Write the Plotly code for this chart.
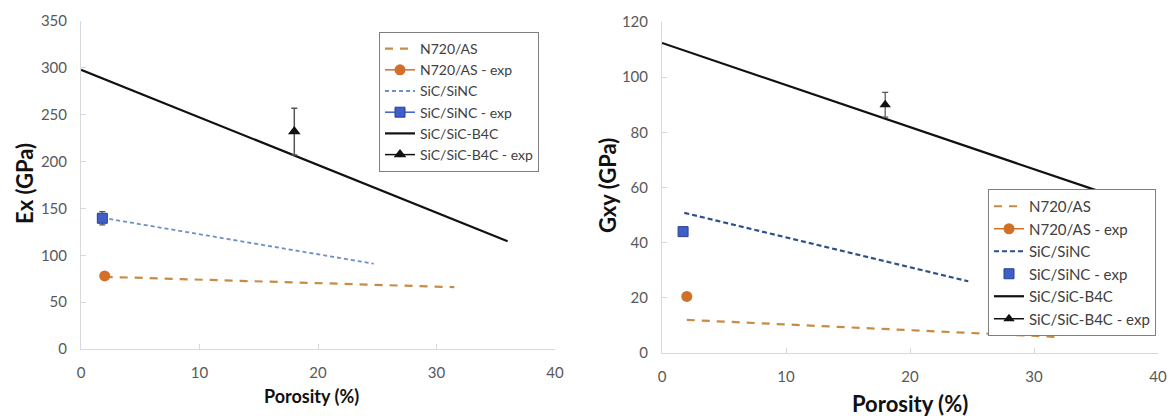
import plotly.graph_objects as go

# ---------------- data: left panel (Ex) ----------------
ex_n720_x = [2, 31.5]
ex_n720_y = [77, 66]
ex_n720_exp_x = [2]
ex_n720_exp_y = [78]
ex_sinc_x = [1.8, 24.7]
ex_sinc_y = [140, 91]
ex_sinc_exp_x = [1.8]
ex_sinc_exp_y = [139.5]
ex_sinc_exp_err = [7]
ex_b4c_x = [0, 36]
ex_b4c_y = [298, 115]
ex_b4c_exp_x = [18]
ex_b4c_exp_y = [232]
ex_b4c_exp_err = [25]

# ---------------- data: right panel (Gxy) ----------------
g_n720_x = [2, 32]
g_n720_y = [12, 5.8]
g_n720_exp_x = [2]
g_n720_exp_y = [20.5]
g_sinc_x = [1.8, 24.7]
g_sinc_y = [50.8, 26]
g_sinc_exp_x = [1.7]
g_sinc_exp_y = [44]
g_b4c_x = [0, 36]
g_b4c_y = [112.4, 57.5]
g_b4c_exp_x = [18]
g_b4c_exp_y = [90]
g_b4c_exp_err = [4.5]

names = ["N720/AS", "N720/AS - exp", "SiC/SiNC", "SiC/SiNC - exp", "SiC/SiC-B4C", "SiC/SiC-B4C - exp"]

ORANGE_LINE = "#C98A45"
ORANGE_MK = "#D2702A"
BLUE_LIGHT = "#6F8FC8"
BLUE_DARK = "#2F4F8A"
BLUE_MK = "#3F5FC8"
BLACK = "#111111"
FONT = "Lato"

fig = go.Figure()

# Left panel
fig.add_trace(go.Scatter(x=ex_n720_x, y=ex_n720_y, mode="lines", name=names[0],
                         line=dict(color=ORANGE_LINE, width=2.2, dash="8px,7px"),
                         xaxis="x", yaxis="y", legend="legend"))
fig.add_trace(go.Scatter(x=ex_n720_exp_x, y=ex_n720_exp_y, mode="lines+markers", name=names[1],
                         line=dict(color=ORANGE_MK, width=1.5),
                         marker=dict(symbol="circle", size=11, color=ORANGE_MK),
                         xaxis="x", yaxis="y", legend="legend"))
fig.add_trace(go.Scatter(x=ex_sinc_x, y=ex_sinc_y, mode="lines", name=names[2],
                         line=dict(color=BLUE_LIGHT, width=1.8, dash="4px,3px"),
                         xaxis="x", yaxis="y", legend="legend"))
fig.add_trace(go.Scatter(x=ex_sinc_exp_x, y=ex_sinc_exp_y, mode="lines+markers", name=names[3],
                         line=dict(color=BLUE_MK, width=1.5),
                         marker=dict(symbol="square", size=10, color=BLUE_MK,
                                     line=dict(color="#2A3F8F", width=1)),
                         error_y=dict(type="data", array=ex_sinc_exp_err, color="#555555",
                                      thickness=1.2, width=3),
                         xaxis="x", yaxis="y", legend="legend"))
fig.add_trace(go.Scatter(x=ex_b4c_x, y=ex_b4c_y, mode="lines", name=names[4],
                         line=dict(color=BLACK, width=2.2),
                         xaxis="x", yaxis="y", legend="legend"))
fig.add_trace(go.Scatter(x=ex_b4c_exp_x, y=ex_b4c_exp_y, mode="lines+markers", name=names[5],
                         line=dict(color=BLACK, width=1.5),
                         marker=dict(symbol="triangle-up", size=11, color=BLACK),
                         error_y=dict(type="data", array=ex_b4c_exp_err, color="#555555",
                                      thickness=1.5, width=3),
                         xaxis="x", yaxis="y", legend="legend"))

# Right panel
fig.add_trace(go.Scatter(x=g_n720_x, y=g_n720_y, mode="lines", name=names[0],
                         line=dict(color=ORANGE_LINE, width=2.2, dash="8px,7px"),
                         xaxis="x2", yaxis="y2", legend="legend2"))
fig.add_trace(go.Scatter(x=g_n720_exp_x, y=g_n720_exp_y, mode="lines+markers", name=names[1],
                         line=dict(color=ORANGE_MK, width=1.5),
                         marker=dict(symbol="circle", size=11, color=ORANGE_MK),
                         xaxis="x2", yaxis="y2", legend="legend2"))
fig.add_trace(go.Scatter(x=g_sinc_x, y=g_sinc_y, mode="lines", name=names[2],
                         line=dict(color=BLUE_DARK, width=2.2, dash="5px,3px"),
                         xaxis="x2", yaxis="y2", legend="legend2"))
fig.add_trace(go.Scatter(x=g_sinc_exp_x, y=g_sinc_exp_y, mode="markers", name=names[3],
                         marker=dict(symbol="square", size=10, color=BLUE_MK,
                                     line=dict(color="#2A3F8F", width=1)),
                         xaxis="x2", yaxis="y2", legend="legend2"))
fig.add_trace(go.Scatter(x=g_b4c_x, y=g_b4c_y, mode="lines", name=names[4],
                         line=dict(color=BLACK, width=2.2),
                         xaxis="x2", yaxis="y2", legend="legend2"))
fig.add_trace(go.Scatter(x=g_b4c_exp_x, y=g_b4c_exp_y, mode="lines+markers", name=names[5],
                         line=dict(color=BLACK, width=1.5),
                         marker=dict(symbol="triangle-up", size=10, color=BLACK),
                         error_y=dict(type="data", array=g_b4c_exp_err, color="#555555",
                                      thickness=1.2, width=3),
                         xaxis="x2", yaxis="y2", legend="legend2"))

W, H = 1170, 416


def px(x):
    return x / W


def py(y):
    return (H - y) / H


axis_common = dict(showgrid=False, zeroline=False, showline=True, linecolor="#D9D9D9",
                   linewidth=1, ticks="inside", tickcolor="#D9D9D9", ticklen=5,
                   tickfont=dict(family=FONT, size=15, color="#595959"),
                   ticklabelstandoff=10, fixedrange=True, automargin=False)

fig.update_layout(
    width=W, height=H,
    margin=dict(l=0, r=0, t=0, b=0, autoexpand=False),
    paper_bgcolor="white", plot_bgcolor="white",
    font=dict(family=FONT, color="#404040"),
    xaxis=dict(domain=[px(81), px(555)], range=[0, 40], dtick=10, anchor="y", **axis_common),
    yaxis=dict(domain=[py(349), py(21)], range=[0, 350], dtick=50, anchor="x", **axis_common),
    xaxis2=dict(domain=[px(662), px(1158)], range=[0, 40], dtick=10, anchor="y2", **axis_common),
    yaxis2=dict(domain=[py(353), py(22)], range=[0, 120], dtick=20, anchor="x2", **axis_common),
    legend=dict(x=px(379), y=py(32), xanchor="left", yanchor="top",
                bgcolor="white", bordercolor="#7F7F7F", borderwidth=1,
                font=dict(family=FONT, size=14, color="#404040"),
                tracegroupgap=0, itemwidth=30),
    legend2=dict(x=px(988), y=py(189), xanchor="left", yanchor="top",
                 bgcolor="white", bordercolor="#7F7F7F", borderwidth=1,
                 font=dict(family=FONT, size=15, color="#404040"),
                 tracegroupgap=0, itemwidth=30),
    annotations=[
        dict(text="<b>Ex (GPa)</b>", x=px(24), y=py(184), xref="paper", yref="paper",
             xanchor="center", yanchor="middle",
             textangle=-90, showarrow=False, font=dict(family=FONT, size=22, color="#111111")),
        dict(text="<b>Porosity (%)</b>", x=px(311), y=py(396), xref="paper", yref="paper",
             xanchor="center", yanchor="middle",
             showarrow=False, font=dict(family=FONT, size=18, color="#111111")),
        dict(text="<b>Gxy (GPa)</b>", x=px(607), y=py(186), xref="paper", yref="paper",
             xanchor="center", yanchor="middle",
             textangle=-90, showarrow=False, font=dict(family=FONT, size=22, color="#111111")),
        dict(text="<b>Porosity (%)</b>", x=px(910), y=py(403), xref="paper", yref="paper",
             xanchor="center", yanchor="middle",
             showarrow=False, font=dict(family=FONT, size=22, color="#111111")),
    ],
)

fig.write_html("out.html", config={"displayModeBar": False},
               post_script="document.body.style.margin='0px';")
